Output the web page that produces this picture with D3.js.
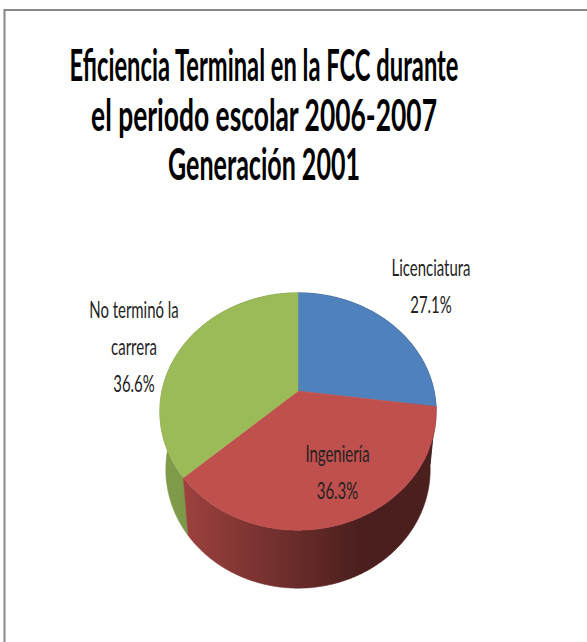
<!DOCTYPE html>
<html>
<head>
<meta charset="utf-8">
<script src="https://cdn.jsdelivr.net/npm/d3@7"></script>
<style>
  html, body { margin: 0; padding: 0; background: #fff; overflow: hidden; }
</style>
</head>
<body>
<div id="chart"></div>
<script>
// chart data
const categories = ['Licenciatura', 'Ingeniería', 'No terminó la carrera'];
const values = [27.1, 36.3, 36.6];
const colors = ['#4F81BD', '#C0504D', '#9BBB59'];
const labelLines = [['Licenciatura'], ['Ingeniería'], ['No terminó la', 'carrera']];
const titleLines = ['Eficiencia Terminal en la FCC durante', 'el periodo escolar 2006-2007', 'Generación 2001'];

const width = 587, height = 642;

const svg = d3.select('#chart').append('svg')
    .attr('width', width)
    .attr('height', height);

// frame (only top and left edges are visible in the picture)
svg.append('path')
    .attr('d', `M4.5,${height} V10 H${width}`)
    .attr('fill', 'none')
    .attr('stroke', '#888')
    .attr('stroke-width', 2);

// 3d pie projection: tilted disc seen in perspective
const cx = 298, cy = 391;
const focal = 419, dist = 3.08, sinE = 0.846, cosE = 0.533;
const depth = 58, shrink = 0.957;

const topPoint = (a) => {
    const x = Math.sin(a), y = Math.cos(a);
    const dz = dist + y * cosE;
    return [cx + focal * x / dz, cy - focal * y * sinE / dz];
};
const bottomPoint = (a) => {
    const p = topPoint(a);
    return [cx + (p[0] - cx) * shrink, p[1] + depth];
};
const arcAngles = (a0, a1) => d3.range(a0, a1, 0.01).concat([a1]);

const pie = d3.pie().sort(null).value(d => d);
const slices = pie(values);
const line = d3.line();

// side gradients
const defs = svg.append('defs');
colors.forEach((c, i) => {
    const g = defs.append('linearGradient')
        .attr('id', 'side' + i)
        .attr('gradientUnits', 'userSpaceOnUse')
        .attr('x1', 180).attr('x2', 360).attr('y1', 0).attr('y2', 0);
    g.append('stop').attr('offset', 0).attr('stop-color', d3.color(c).darker(0.55));
    g.append('stop').attr('offset', 1).attr('stop-color', d3.color(c).darker(2.65));
});

// outer walls, back ones first
const walls = slices.map((s, i) => {
    const angs = arcAngles(s.startAngle, s.endAngle);
    const pts = angs.map(topPoint).concat(angs.slice().reverse().map(bottomPoint));
    return { i, pts, front: d3.max(angs.map(bottomPoint), p => p[1]) };
}).sort((a, b) => a.front - b.front);

svg.append('g').selectAll('path')
    .data(walls)
    .join('path')
    .attr('d', d => line(d.pts) + 'Z')
    .attr('fill', d => `url(#side${d.i})`)
    .attr('stroke', d => `url(#side${d.i})`)
    .attr('stroke-width', 0.6);

// top faces
svg.append('g').selectAll('path')
    .data(slices)
    .join('path')
    .attr('d', s => line([[cx, cy]].concat(arcAngles(s.startAngle, s.endAngle).map(topPoint))) + 'Z')
    .attr('fill', (s, i) => colors[i])
    .attr('stroke', (s, i) => colors[i])
    .attr('stroke-width', 0.6);

// text is condensed horizontally like the source image
const fontFamily = 'Lato, "Open Sans", sans-serif';

// title: each line squeezed to the width it has in the picture
const titleWidths = [389, 346, 192];
const titleG = svg.append('g');
titleLines.forEach((t, i) => {
    const txt = titleG.append('text')
        .attr('text-anchor', 'middle')
        .attr('font-family', fontFamily)
        .attr('font-size', 43)
        .attr('font-weight', 'bold')
        .attr('fill', '#000')
        .text(t);
    const sx = titleWidths[i] / txt.node().getComputedTextLength();
    txt.attr('transform', `translate(264,${81 + i * 49.5}) scale(${sx},1)`);
});

// data labels
const labelPos = [[431, 276], [337.5, 461.5], [134, 318]];
const lineStep = 37;
const labelG = svg.append('g');
const labelScale = (() => {
    const probe = labelG.append('text')
        .attr('font-family', fontFamily).attr('font-size', 23.5)
        .text(labelLines[0][0]);
    const s = 79 / probe.node().getComputedTextLength();
    probe.remove();
    return s;
})();
slices.forEach((s, i) => {
    const lines = labelLines[i].concat([d3.format('.1f')(values[i]) + '%']);
    lines.forEach((t, j) => {
        labelG.append('text')
            .attr('text-anchor', 'middle')
            .attr('font-family', fontFamily)
            .attr('font-size', 23.5)
            .attr('fill', '#222')
            .attr('transform', `translate(${labelPos[i][0]},${labelPos[i][1] + j * lineStep}) scale(${labelScale},1)`)
            .text(t);
    });
});
</script>
</body>
</html>
